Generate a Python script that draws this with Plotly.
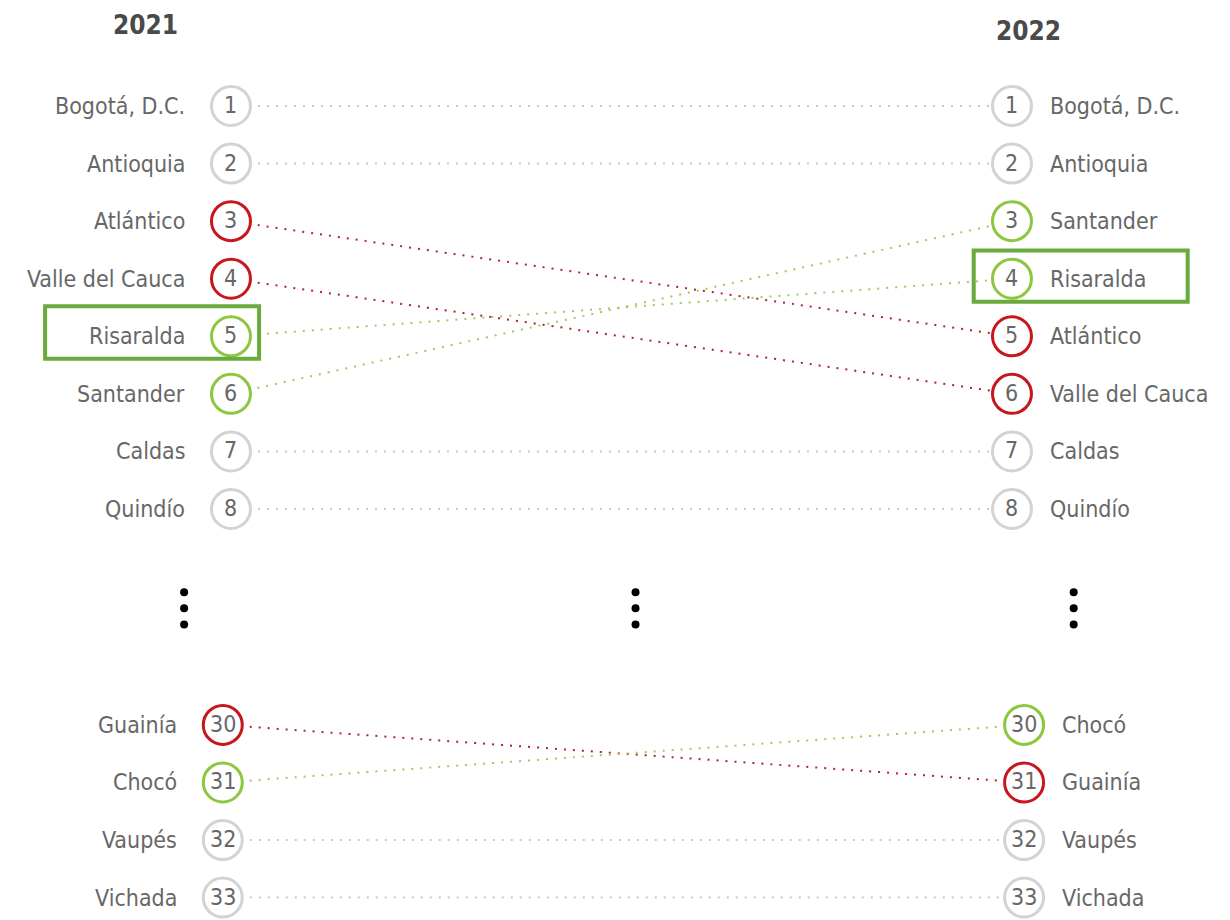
import plotly.graph_objects as go

# ---------------- data ----------------
departments = ["Bogotá, D.C.", "Antioquia", "Atlántico", "Valle del Cauca", "Risaralda",
               "Santander", "Caldas", "Quindío", "Guainía", "Chocó", "Vaupés", "Vichada"]
rank_2021 = [1, 2, 3, 4, 5, 6, 7, 8, 30, 31, 32, 33]
rank_2022 = [1, 2, 5, 6, 4, 3, 7, 8, 31, 30, 32, 33]
years = ["2021", "2022"]
highlight = "Risaralda"

# ---------------- styles ----------------
GRAY_C, RED_C, GREEN_C = "#d3d3d3", "#c8161d", "#8dc63f"
GRAY_L, RED_L, GREEN_L = "#c9c9c9", "#b5242b", "#a3c95a"
TEXT_C = "#676767"
TITLE_C = "#4a4a4a"
BOX_C = "#6aab3e"
FONT = "DejaVu Sans Condensed, sans-serif"

TOP_MAX = 8
GAP_SLOT = 11.75          # slot where rank 30 sits
BOTTOM_START = 30
# column x positions per section (left, right)
COLS = {"top": (0.0, 1.0), "bottom": (-0.0105, 1.0155)}


def slot(r):
    return r if r <= TOP_MAX else GAP_SLOT + (r - BOTTOM_START)


def section(r):
    return "top" if r <= TOP_MAX else "bottom"


def status(a, b):
    if b < a:
        return GREEN_C, GREEN_L
    if b > a:
        return RED_C, RED_L
    return GRAY_C, GRAY_L


fig = go.Figure()

# connecting dotted lines
for name, a, b in zip(departments, rank_2021, rank_2022):
    cc, lc = status(a, b)
    xl = COLS[section(a)][0]
    xr = COLS[section(b)][1]
    fig.add_trace(go.Scatter(x=[xl, xr], y=[slot(a), slot(b)], mode="lines",
                             line=dict(color=lc, width=2, dash="2px,7px"),
                             hoverinfo="skip", showlegend=False))

# circles
for name, a, b in zip(departments, rank_2021, rank_2022):
    cc, lc = status(a, b)
    xl = COLS[section(a)][0]
    xr = COLS[section(b)][1]
    fig.add_trace(go.Scatter(
        x=[xl, xr], y=[slot(a), slot(b)], mode="markers",
        marker=dict(size=39, color="white", line=dict(color=cc, width=3)),
        hoverinfo="skip", showlegend=False))
    for xx, rr in ((xl, a), (xr, b)):
        fig.add_annotation(x=xx, y=slot(rr), text=str(rr), showarrow=False,
                           xanchor="center", yanchor="middle", yshift=1,
                           font=dict(family=FONT, size=23, color=TEXT_C))
    fig.add_annotation(x=xl, y=slot(a), text=name, showarrow=False, xanchor="right",
                       xshift=-44, font=dict(family=FONT, size=23, color=TEXT_C))
    fig.add_annotation(x=xr, y=slot(b), text=name, showarrow=False, xanchor="left",
                       xshift=36, font=dict(family=FONT, size=23, color=TEXT_C))

# highlight boxes around the highlighted department
hi = departments.index(highlight)
ya, yb = slot(rank_2021[hi]), slot(rank_2022[hi])
fig.add_shape(type="rect", x0=-0.238, x1=0.036, y0=ya - 0.52, y1=ya + 0.39,
              line=dict(color=BOX_C, width=4))
fig.add_shape(type="rect", x0=0.951, x1=1.225, y0=yb - 0.49, y1=yb + 0.40,
              line=dict(color=BOX_C, width=4))

# ellipsis (vertical dots) between sections
ell_slot = (TOP_MAX + GAP_SLOT) / 2 - 0.15
ell_x = [-0.06, 0.518, 1.079]
for ex in ell_x:
    fig.add_trace(go.Scatter(x=[ex] * 3, y=[ell_slot - 0.28, ell_slot, ell_slot + 0.28],
                             mode="markers", marker=dict(size=8, color="black"),
                             hoverinfo="skip", showlegend=False))

# year titles
fig.add_annotation(x=-0.11, y=-0.40, text="<b>" + years[0] + "</b>", showarrow=False,
                   font=dict(family=FONT, size=26, color=TITLE_C))
fig.add_annotation(x=1.021, y=-0.31, text="<b>" + years[1] + "</b>", showarrow=False,
                   font=dict(family=FONT, size=26, color=TITLE_C))

# page body adds an 8px offset; ranges are shifted to compensate
fig.update_layout(
    width=1230, height=920, margin=dict(l=0, r=0, t=0, b=0),
    plot_bgcolor="white", paper_bgcolor="white",
    xaxis=dict(range=[-0.2855, 1.2894], visible=False, fixedrange=True),
    yaxis=dict(range=[15.278, -0.7023], visible=False, fixedrange=True),
)

fig.write_html("out.html")
